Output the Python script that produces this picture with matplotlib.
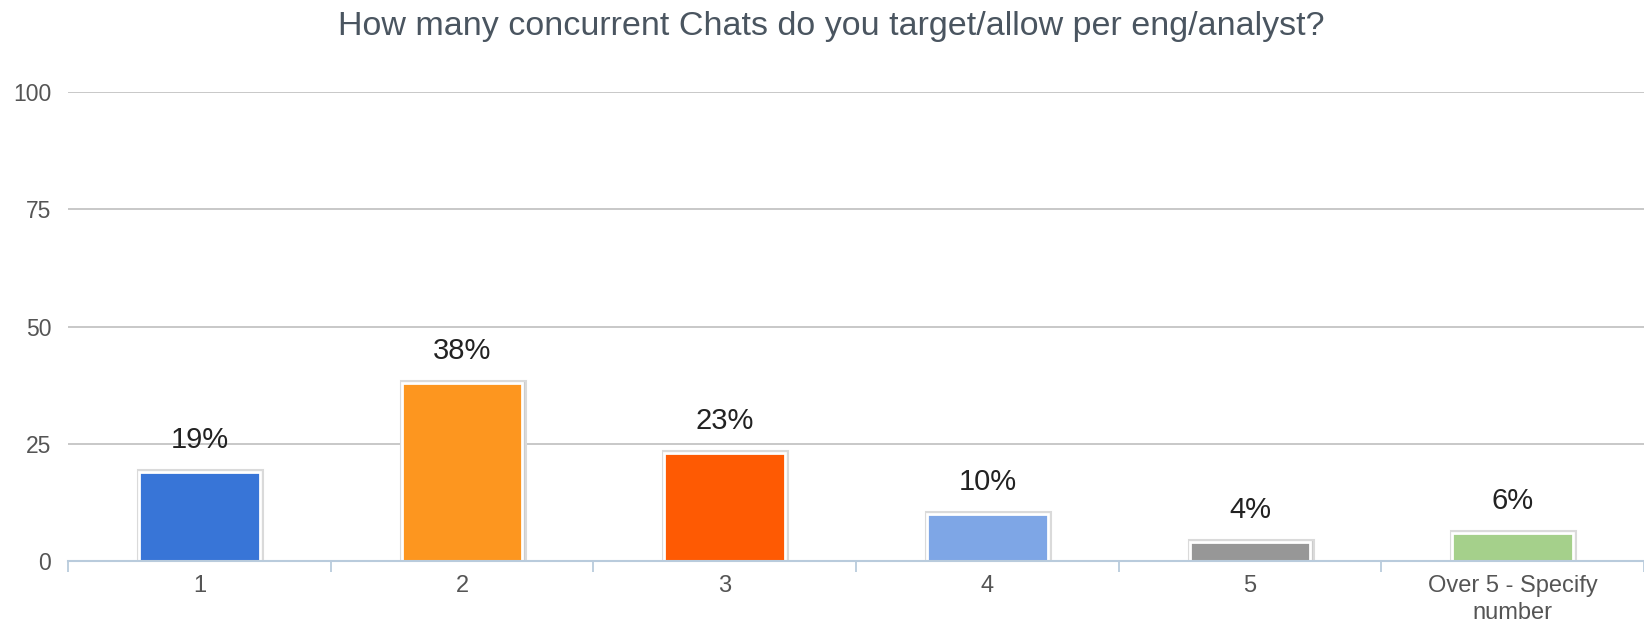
import matplotlib
matplotlib.use("Agg")
import matplotlib.pyplot as plt
import numpy as np

# survey answers
categories = ["1", "2", "3", "4", "5", "Over 5 - Specify\nnumber"]
percents = [19, 38, 23, 10, 4, 6]
bar_colors = ["#3875d7", "#fd961f", "#fe5a03", "#7ea6e6", "#979797", "#a5d08b"]
yticks = [0, 25, 50, 75, 100]

plt.rcParams['font.family'] = ['Liberation Sans', 'DejaVu Sans']

fig = plt.figure(figsize=(16.44, 6.26), dpi=100)
ax = fig.add_axes([68/1644, 1 - 561/626, (1644-68)/1644, (561-92)/626])

x = np.arange(len(categories))
w = 0.46

# soft shadow behind each bar
ax.bar(x + 0.004, np.array(percents) + 0.9, width=w + 0.016, bottom=-0.5,
       color="#cccccc", edgecolor="#dadada", linewidth=1.5, zorder=2)
ax.bar(x, percents, width=w, color=bar_colors, edgecolor="white",
       linewidth=2.0, zorder=3)

for xi, v in zip(x, percents):
    ax.annotate(f"{v}%", (xi, v), xytext=(0, 13), textcoords="offset points",
                ha="center", va="bottom", fontsize=21, color="#222222")

ax.set_xlim(-0.5, len(categories) - 0.5)
ax.set_ylim(0, 100)
ax.set_yticks(yticks)
ax.yaxis.grid(True, color="#c4c4c4", linewidth=1.3)
ax.set_axisbelow(True)
for s in ["top", "right", "left"]:
    ax.spines[s].set_visible(False)
ax.spines["bottom"].set_color("#b9cbdc")
ax.spines["bottom"].set_linewidth(1.5)
ax.spines["bottom"].set_zorder(4)

ax.tick_params(axis="y", length=0, pad=12, labelsize=16.5, labelcolor="#555555")
ax.set_xticks(x)
ax.set_xticklabels(categories, linespacing=1.3)
ax.tick_params(axis="x", length=0, pad=10, labelsize=17, labelcolor="#555555")
# separator ticks between categories
ax.set_xticks(np.arange(len(categories) + 1) - 0.5, minor=True)
ax.tick_params(axis="x", which="minor", length=8, color="#b9cbdc", width=1.3)

fig.text(831/1644, 1 - 26/626, "How many concurrent Chats do you target/allow per eng/analyst?",
         ha="center", va="center", fontsize=24.5, color="#4a5560")

fig.savefig("out.png", dpi=100)
